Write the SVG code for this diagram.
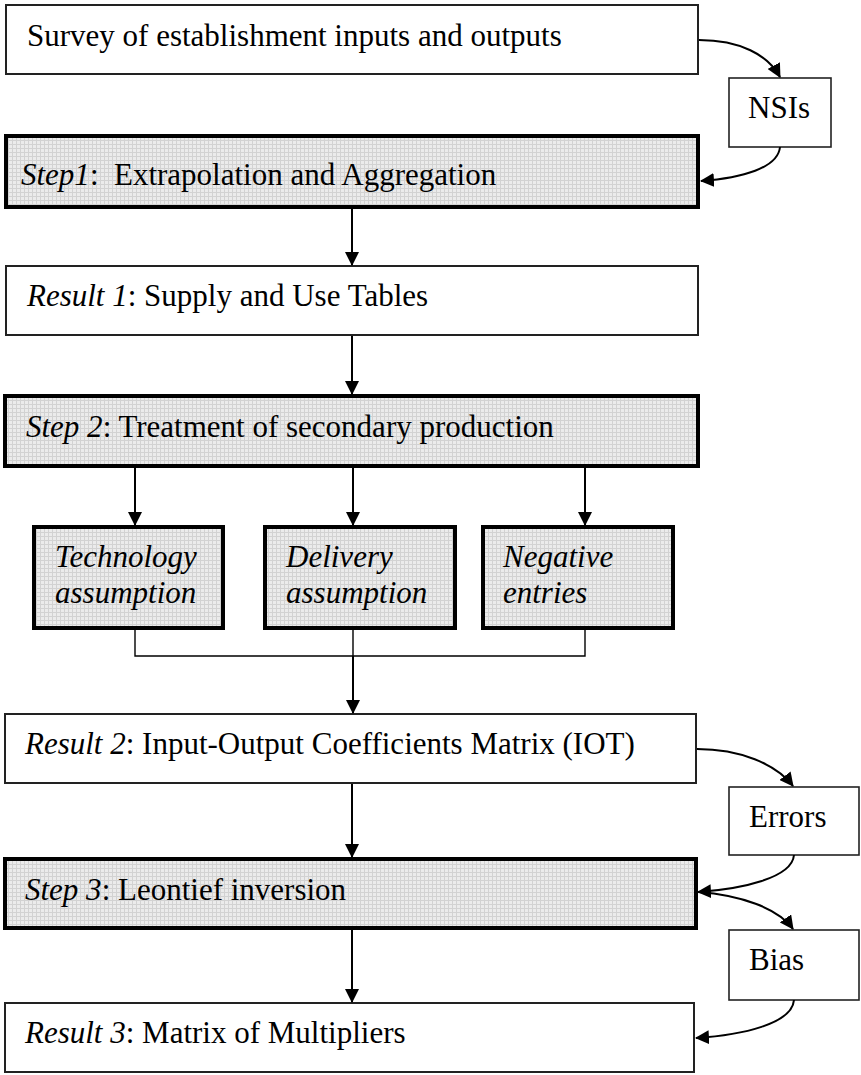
<svg xmlns="http://www.w3.org/2000/svg" width="861" height="1075" viewBox="0 0 861 1075">
<defs>
<pattern id="grid" width="4" height="4" patternUnits="userSpaceOnUse">
<rect width="4" height="4" fill="#ebebeb"/>
<rect width="4" height="1" fill="#d2d2d2"/>
<rect width="1" height="4" fill="#d2d2d2"/>
</pattern>
<marker id="ah" markerUnits="userSpaceOnUse" markerWidth="14" markerHeight="14" refX="13" refY="7" orient="auto">
<path d="M0,0 L14,7 L0,14 z" fill="#000"/>
</marker>
</defs>
<style>
.wbox{fill:#fff;stroke:#222;stroke-width:2}
.sbox{fill:url(#grid);stroke:#000;stroke-width:4}
.small{fill:#fff;stroke:#222;stroke-width:1.6}
text{font-family:"Liberation Serif","Times New Roman",serif;font-size:31px;fill:#000}
.it{font-style:italic}
.c{fill:none;stroke:#000;stroke-width:2}
.t{fill:none;stroke:#000;stroke-width:1.4}
</style>
<rect width="861" height="1075" fill="#fff"/>
<g id="survey"><rect class="wbox" x="6" y="5" width="692" height="69"/><text x="27" y="46">Survey of establishment inputs and outputs</text></g>
<g id="nsis"><rect class="small" x="729" y="78" width="102" height="69"/><text x="748" y="118">NSIs</text></g>
<g id="step1"><rect class="sbox" x="6" y="136" width="692" height="71"/><text x="21" y="185" xml:space="preserve"><tspan class="it">Step1</tspan>:  Extrapolation and Aggregation</text></g>
<g id="result1"><rect class="wbox" x="6" y="266" width="692" height="69"/><text x="27" y="306"><tspan class="it">Result 1</tspan>: Supply and Use Tables</text></g>
<g id="step2"><rect class="sbox" x="5" y="396" width="693" height="70"/><text x="26" y="437"><tspan class="it">Step 2</tspan>: Treatment of secondary production</text></g>
<g id="tech"><rect class="sbox" x="34" y="527" width="189" height="101"/><text class="it" x="55" y="567">Technology</text><text class="it" x="55" y="603">assumption</text></g>
<g id="delivery"><rect class="sbox" x="265" y="527" width="190" height="101"/><text class="it" x="286" y="567">Delivery</text><text class="it" x="286" y="603">assumption</text></g>
<g id="negative"><rect class="sbox" x="483" y="527" width="190" height="101"/><text class="it" x="503" y="567">Negative</text><text class="it" x="503" y="603">entries</text></g>
<g id="result2"><rect class="wbox" x="5" y="714" width="691" height="69"/><text x="25" y="754"><tspan class="it">Result 2</tspan>: Input-Output Coefficients Matrix (IOT)</text></g>
<g id="errors"><rect class="small" x="729" y="787" width="130" height="68"/><text x="749" y="827">Errors</text></g>
<g id="step3"><rect class="sbox" x="5" y="859" width="691" height="69"/><text x="25" y="900"><tspan class="it">Step 3</tspan>: Leontief inversion</text></g>
<g id="bias"><rect class="small" x="729" y="930" width="130" height="70"/><text x="749" y="970">Bias</text></g>
<g id="result3"><rect class="wbox" x="5" y="1003" width="689" height="69"/><text x="25" y="1043"><tspan class="it">Result 3</tspan>: Matrix of Multipliers</text></g>
<g id="connectors">
<path class="c" d="M699 40 C740 40 768 55 780 77" marker-end="url(#ah)"/>
<path class="c" d="M780 147 C778 168 742 178 701 181" marker-end="url(#ah)"/>
<path class="c" d="M352 209 L352 265" marker-end="url(#ah)"/>
<path class="c" d="M352 336 L352 394" marker-end="url(#ah)"/>
<path class="c" d="M135 468 L135 525" marker-end="url(#ah)"/>
<path class="c" d="M353 468 L353 525" marker-end="url(#ah)"/>
<path class="c" d="M585 468 L585 525" marker-end="url(#ah)"/>
<path class="t" d="M135 630 L135 656 L585 656 L585 630 M353 630 L353 656"/>
<path class="c" d="M353 656 L353 713" marker-end="url(#ah)"/>
<path class="c" d="M352 784 L352 857" marker-end="url(#ah)"/>
<path class="c" d="M352 930 L352 1002" marker-end="url(#ah)"/>
<path class="c" d="M697 749 C740 749 776 764 793 786" marker-end="url(#ah)"/>
<path class="c" d="M794 855 C792 878 742 889 698 892" marker-end="url(#ah)"/>
<path class="c" d="M698 892 C740 895 778 908 793 929" marker-end="url(#ah)"/>
<path class="c" d="M794 1000 C792 1024 742 1035 696 1038" marker-end="url(#ah)"/>
</g>
</svg>
